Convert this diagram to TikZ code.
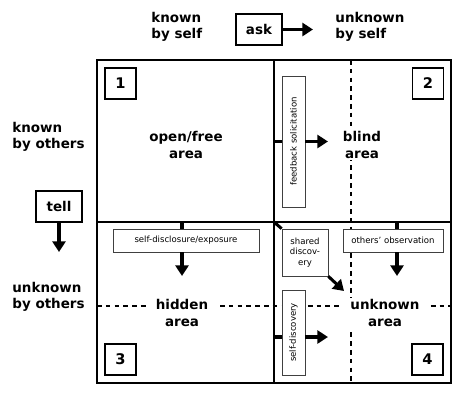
\documentclass[tikz,border=0pt]{standalone}
\usepackage{fontspec}
\setmainfont{DejaVu Sans}
\usetikzlibrary{arrows.meta,positioning}

\tikzset{
  heading/.style={font=\fontsize{11.5}{14}\selectfont\bfseries, align=left, inner sep=1pt},
  area/.style={font=\fontsize{11.5}{14}\selectfont\bfseries, align=center, fill=white, inner xsep=8pt, inner ysep=1pt},
  numbox/.style={draw, line width=1.4pt, minimum size=0.93cm, inner sep=0pt, font=\fontsize{12.5}{14}\selectfont\bfseries},
  cuebox/.style={draw, line width=1.2pt, minimum width=1.38cm, minimum height=0.93cm, inner sep=0pt, font=\fontsize{11.5}{14}\selectfont\bfseries},
  smallbox/.style={draw=black!75, line width=0.6pt, fill=white, inner sep=0pt, align=center, font=\fontsize{7.3}{9}\selectfont},
  stem/.style={line width=2.6pt},
  push/.style={line width=2.6pt, -{Triangle[length=9pt,width=11pt]}},
  split/.style={line width=1pt, dash pattern=on 4pt off 3.5pt}
}

\begin{document}
\begin{tikzpicture}[x=0.03cm, y=-0.03cm]
  \useasboundingbox (0,0) rectangle (473,410);

  % top and side headings
  \node[heading, anchor=west] (kself) at (150,27) {known\\by self};
  \node[cuebox] (ask) at (259,29.5) {ask};
  \node[heading, anchor=west] (uself) at (334,27) {unknown\\by self};
  \coordinate (asktip) at (313,29.5);
  \draw[push] (ask.east) -- (asktip);

  \node[heading, anchor=west] (kothers) at (11,137) {known\\by others};
  \node[cuebox] (tell) at (59,206.5) {tell};
  \coordinate (telltip) at (59,252);
  \draw[push] (tell.south) -- (telltip);
  \node[heading, anchor=west] (uothers) at (11,297) {unknown\\by others};

  % the dashed splits of the unknown sides
  \draw[split] (351,60) -- (351,383);
  \draw[split] (97,306) -- (451,306);

  % the four quadrants
  \draw[line width=1.7pt] (97,60) rectangle (451,383);
  \draw[line width=1.7pt] (274,60) -- (274,383);
  \draw[line width=1.7pt] (97,222) -- (451,222);

  \node[numbox] (n1) at (120.5,83.5) {1};
  \node[numbox] (n2) at (428,83.5) {2};
  \node[numbox] (n3) at (120.5,359.5) {3};
  \node[numbox] (n4) at (427.5,359.5) {4};

  \node[area] (open) at (186,145) {open/free\\area};
  \node[area] (blind) at (362,145) {blind\\area};
  \node[area] (hidden) at (182,313) {hidden\\area};
  \node[area] (unknown) at (385,313) {unknown\\area};

  % feedback solicitation
  \node[smallbox, minimum width=0.69cm, minimum height=3.93cm] (fb) at (293.5,141.5)
    {\rotatebox{90}{feedback solicitation}};
  \coordinate (fbin) at (274,141.5);
  \coordinate (fbtip) at (328,141.5);
  \draw[stem] (fbin) -- (fb.west);
  \draw[push] (fb.east) -- (fbtip);

  % self-disclosure
  \node[smallbox, minimum width=4.38cm, minimum height=0.69cm] (sd) at (186,240.5)
    {self-disclosure/exposure};
  \coordinate (sdin) at (182,222);
  \coordinate (sdtip) at (182,276);
  \draw[stem] (sdin) -- (sdin |- sd.north);
  \draw[push] (sdin |- sd.south) -- (sdtip);

  % shared discovery
  \node[smallbox, minimum width=1.38cm, minimum height=1.41cm] (shd) at (305,252.5)
    {shared\\discov-\\ery};
  \coordinate (shdin) at (274,222);
  \coordinate (shdtip) at (344,291);
  \draw[stem] (shdin) -- (shd.north west);
  \draw[push] (shd.south east) -- (shdtip);

  % others' observation
  \node[smallbox, minimum width=3cm, minimum height=0.69cm] (obs) at (393,240.5)
    {others' observation};
  \coordinate (obsin) at (397,222);
  \coordinate (obstip) at (397,276);
  \draw[stem] (obsin) -- (obsin |- obs.north);
  \draw[push] (obsin |- obs.south) -- (obstip);

  % self-discovery
  \node[smallbox, minimum width=0.69cm, minimum height=2.55cm] (sdisc) at (293.5,332.5)
    {\rotatebox{90}{self-discovery}};
  \coordinate (sdiscin) at (274,337);
  \coordinate (sdisctip) at (328,337);
  \draw[stem] (sdiscin) -- (sdiscin -| sdisc.west);
  \draw[push] (sdiscin -| sdisc.east) -- (sdisctip);
\end{tikzpicture}
\end{document}
